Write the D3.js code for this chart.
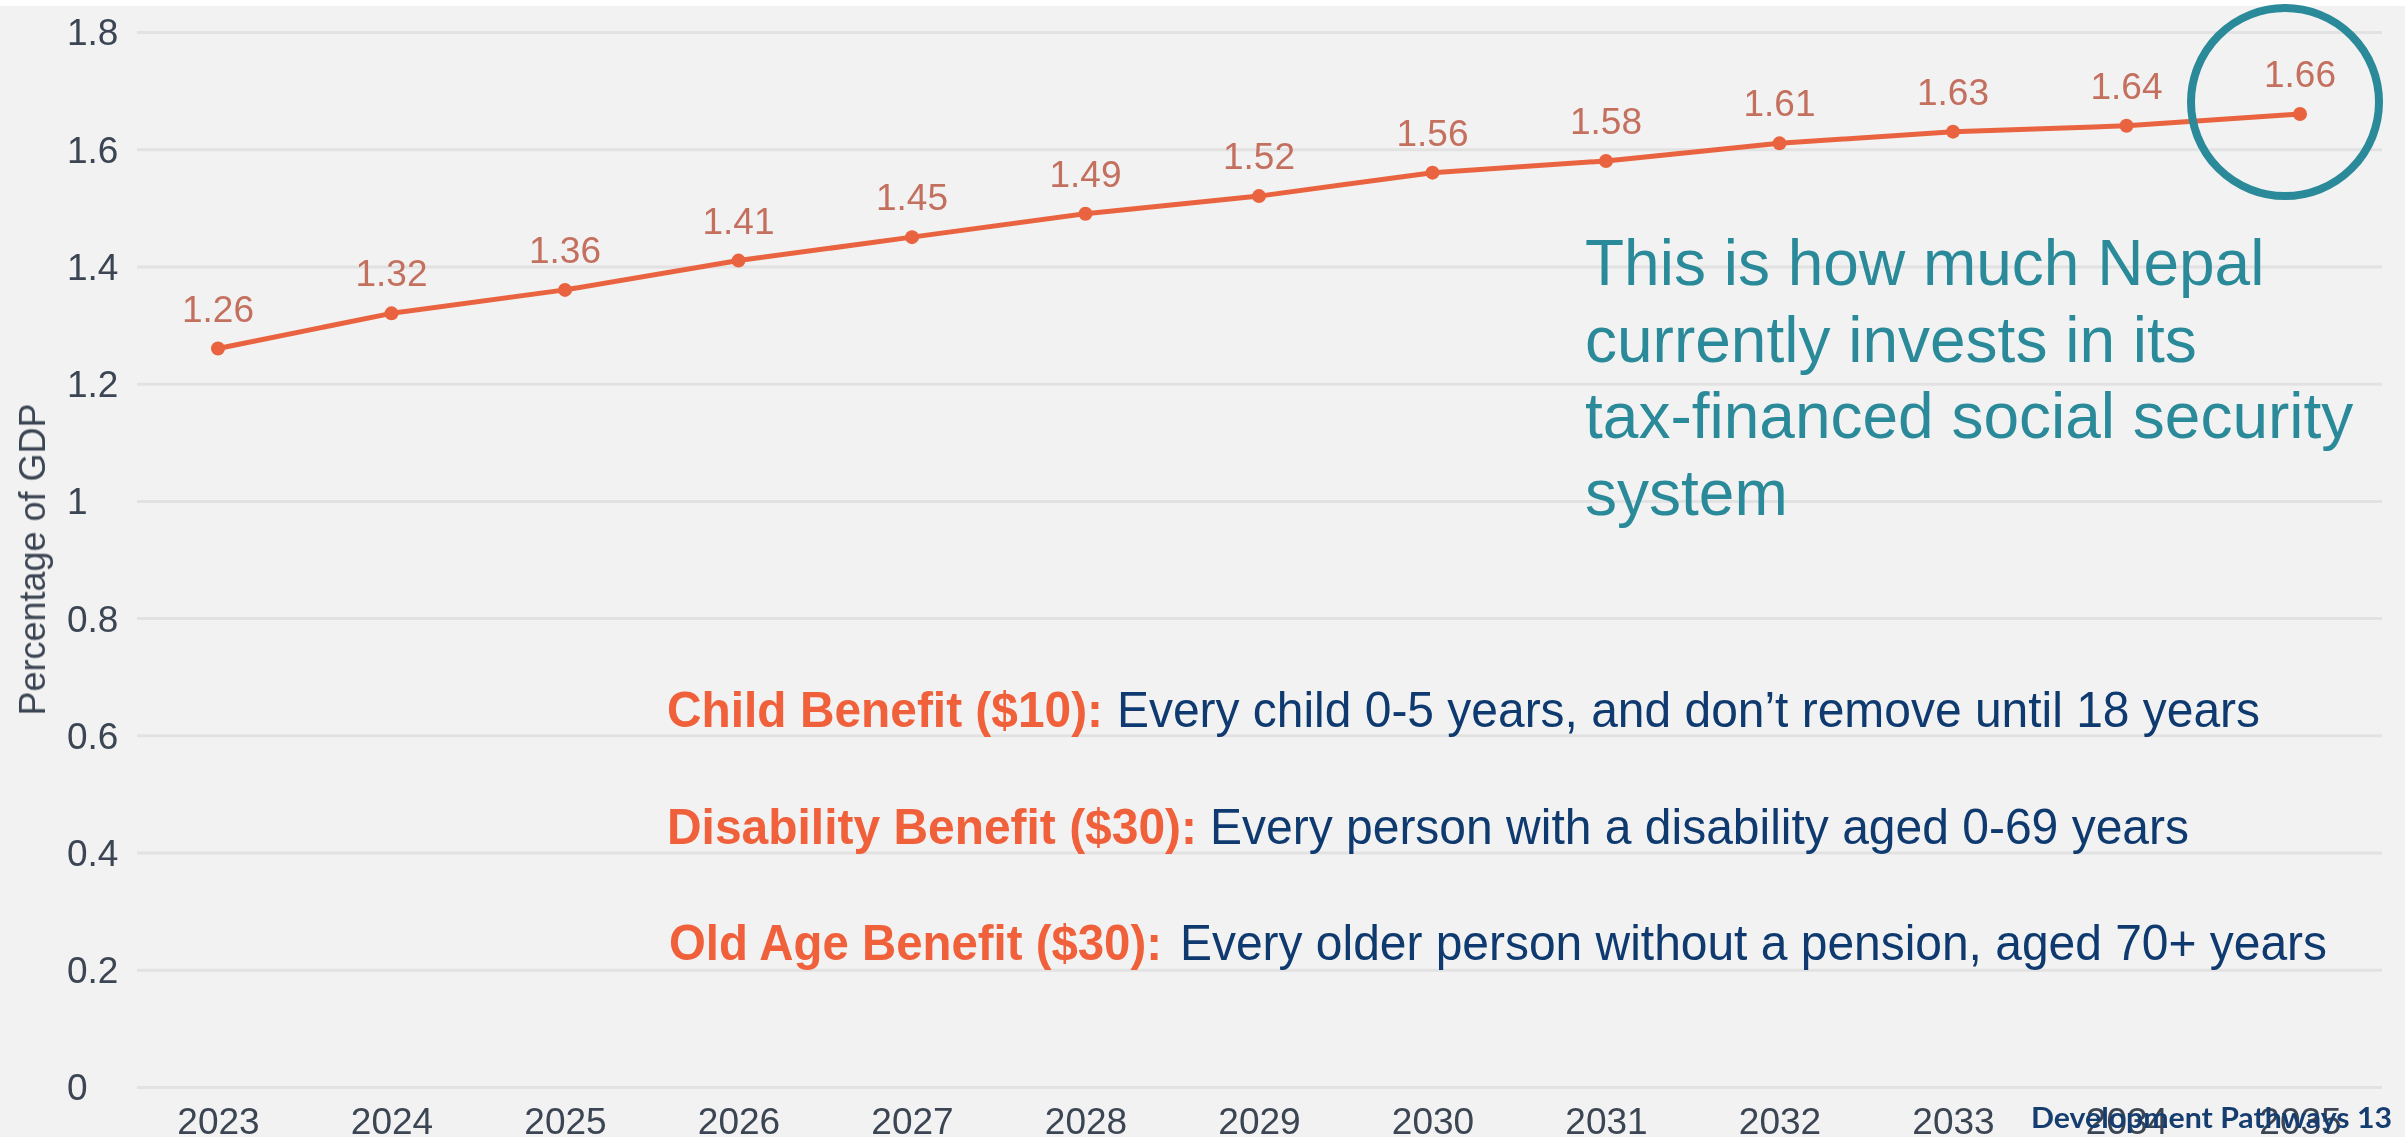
<!DOCTYPE html>
<html>
<head>
<meta charset="utf-8">
<script src="https://cdn.jsdelivr.net/npm/d3@7"></script>
<style>
  html, body { margin: 0; padding: 0; background: #ffffff; }
  svg { display: block; }
</style>
</head>
<body>
<script>
// Projected tax-financed social security spending, Nepal (percentage of GDP)
const years = ["2023","2024","2025","2026","2027","2028","2029","2030","2031","2032","2033","2034","2035"];
const spending = [1.26, 1.32, 1.36, 1.41, 1.45, 1.49, 1.52, 1.56, 1.58, 1.61, 1.63, 1.64, 1.66];
const yTicks = [0, 0.2, 0.4, 0.6, 0.8, 1, 1.2, 1.4, 1.6, 1.8];
const yTitle = "Percentage of GDP";

const calloutLines = [
  "This is how much Nepal",
  "currently invests in its",
  "tax-financed social security",
  "system"
];
const benefitNames = ["Child Benefit ($10):", "Disability Benefit ($30):", "Old Age Benefit ($30):"];
const benefitRules = [
  "Every child 0-5 years, and don\u2019t remove until 18 years",
  "Every person with a disability aged 0-69 years",
  "Every older person without a pension, aged 70+ years"
];
const footer = "Development Pathways 13";

const W = 2405, H = 1137;
const C = {
  bg: "#f2f2f2", grid: "#e2e2e2", tick: "#3b4552", line: "#e9643f",
  valueLabel: "#c4705f", teal: "#2a8a99", orange: "#ef603b", navy: "#0f3a70"
};

const svg = d3.select("body").append("svg").attr("width", W).attr("height", H);

svg.append("rect").attr("width", W).attr("height", H).attr("fill", "#ffffff");
svg.append("rect").attr("y", 6).attr("width", W).attr("height", H - 6).attr("fill", C.bg);

const defs = svg.append("defs");
defs.append("filter").attr("id", "soft")
  .append("feGaussianBlur").attr("stdDeviation", 0.7);

const x = d3.scalePoint().domain(years).range([218, 2300]);
const y = d3.scaleLinear().domain([0, 1.8]).range([1087, 32]);

const chart = svg.append("g").attr("filter", "url(#soft)");

// horizontal gridlines and y tick labels
const gridLeft = 137, gridRight = 2382;
const yAxis = chart.append("g")
  .attr("transform", `translate(${gridLeft},0)`)
  .call(d3.axisLeft(y).tickValues(yTicks).tickFormat(d3.format("~g"))
    .tickSize(-(gridRight - gridLeft)).tickPadding(0));
yAxis.select(".domain").remove();
yAxis.selectAll(".tick line").attr("stroke", C.grid).attr("stroke-width", 3);
yAxis.selectAll(".tick text")
  .attr("x", 67 - gridLeft).attr("dy", "0.35em")
  .attr("text-anchor", "start")
  .attr("fill", C.tick)
  .style("font-family", "'Liberation Sans', Arial, sans-serif")
  .style("font-size", "37px");

// x axis year labels
const xAxis = chart.append("g")
  .attr("transform", `translate(0,${y(0)})`)
  .call(d3.axisBottom(x).tickSize(0));
xAxis.select(".domain").remove();
xAxis.selectAll(".tick text")
  .attr("y", 47).attr("dy", 0)
  .attr("fill", C.tick)
  .style("font-family", "'Liberation Sans', Arial, sans-serif")
  .style("font-size", "37px");

// y axis title
chart.append("text")
  .attr("transform", `translate(45,${y(0.9)}) rotate(-90)`)
  .attr("text-anchor", "middle")
  .attr("fill", C.tick)
  .style("font-family", "'Liberation Sans', Arial, sans-serif")
  .style("font-size", "36px")
  .text(yTitle);

// spending line with markers
const series = years.map((yr, i) => ({ year: yr, value: spending[i] }));
chart.append("path")
  .datum(series)
  .attr("fill", "none")
  .attr("stroke", C.line)
  .attr("stroke-width", 5)
  .attr("stroke-linejoin", "round")
  .attr("d", d3.line().x(d => x(d.year)).y(d => y(d.value)));

chart.selectAll("circle.pt")
  .data(series).join("circle")
  .attr("class", "pt")
  .attr("cx", d => x(d.year)).attr("cy", d => y(d.value))
  .attr("r", 7).attr("fill", C.line);

chart.selectAll("text.val")
  .data(series).join("text")
  .attr("class", "val")
  .attr("x", d => x(d.year)).attr("y", d => y(d.value) - 27)
  .attr("text-anchor", "middle")
  .attr("fill", C.valueLabel)
  .style("font-family", "'Liberation Sans', Arial, sans-serif")
  .style("font-size", "37px")
  .text(d => d3.format(".2f")(d.value));

// highlight ring around the latest projection
const last = series[series.length - 1];
svg.append("circle")
  .attr("cx", x(last.year) - 15).attr("cy", y(last.value) - 12)
  .attr("r", 94)
  .attr("fill", "none")
  .attr("stroke", C.teal)
  .attr("stroke-width", 8);

// callout text
svg.append("g").selectAll("text")
  .data(calloutLines).join("text")
  .attr("x", 1585).attr("y", (d, i) => 285 + i * 76.7)
  .attr("fill", C.teal)
  .style("font-family", "'Liberation Sans', Arial, sans-serif")
  .style("font-size", "64px")
  .text(d => d);

// benefit descriptions: bold name, then the eligibility rule (slightly condensed type)
const nameSpan = [[667, 436], [667, 530], [669, 493]];
const ruleSpan = [[1117, 1143], [1210, 979], [1180, 1147]];
const benefits = svg.append("g").selectAll("text")
  .data(benefitNames).join("text")
  .attr("y", (d, i) => 727 + i * 116.5)
  .style("font-family", "'Liberation Sans', Arial, sans-serif")
  .style("font-size", "50px");
benefits.append("tspan")
  .attr("x", (d, i) => nameSpan[i][0])
  .attr("textLength", (d, i) => nameSpan[i][1])
  .attr("lengthAdjust", "spacingAndGlyphs")
  .attr("fill", C.orange).attr("font-weight", "bold")
  .text(d => d);
benefits.append("tspan")
  .attr("x", (d, i) => ruleSpan[i][0])
  .attr("textLength", (d, i) => ruleSpan[i][1])
  .attr("lengthAdjust", "spacingAndGlyphs")
  .attr("fill", C.navy)
  .text((d, i) => benefitRules[i]);

// footer
svg.append("text")
  .attr("x", 2392).attr("y", 1128)
  .attr("text-anchor", "end")
  .attr("fill", "#153d6f")
  .attr("font-weight", "bold")
  .attr("textLength", 361).attr("lengthAdjust", "spacingAndGlyphs")
  .style("font-family", "Lato, 'Open Sans', sans-serif")
  .style("font-size", "29px")
  .text(footer);
</script>
</body>
</html>
